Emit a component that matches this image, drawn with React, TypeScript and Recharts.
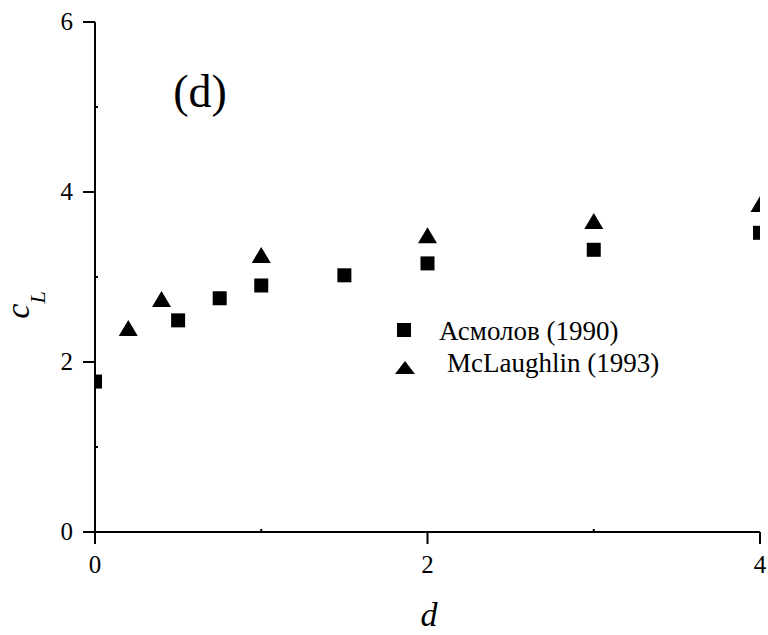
import { ScatterChart, Scatter, XAxis, YAxis, Legend } from "recharts";

const FONT = "'Liberation Serif', 'DejaVu Serif', 'Times New Roman', serif";

// Asmolov (1990) – squares
const asmolovD = [0, 0.5, 0.75, 1, 1.5, 2, 3, 4];
const asmolovCL = [1.77, 2.49, 2.75, 2.9, 3.02, 3.16, 3.32, 3.52];

// McLaughlin (1993) – triangles
const mclaughlinD = [0.2, 0.4, 1, 2, 3, 4];
const mclaughlinCL = [2.4, 2.74, 3.26, 3.49, 3.66, 3.86];

const xTicks = [0, 1, 2, 3, 4];
const yTicks = [0, 1, 2, 3, 4, 5, 6];
const seriesNames = ["Асмолов (1990)", "McLaughlin (1993)"];

const asmolovData = asmolovD.map((x, i) => ({ x, y: asmolovCL[i] }));
const mclaughlinData = mclaughlinD.map((x, i) => ({ x, y: mclaughlinCL[i] }));

const TICK_SIZE = 12;
const Y_TICK_MARGIN = 10;
const X_TICK_MARGIN = 4;

function SquareDot(props: any) {
  const { cx, cy } = props;
  return <rect x={cx - 7} y={cy - 7} width={14} height={14} fill="#000" />;
}

function TriangleDot(props: any) {
  const { cx, cy } = props;
  const pts = `${cx},${cy - 8} ${cx - 9.5},${cy + 8} ${cx + 9.5},${cy + 8}`;
  return <polygon points={pts} fill="#000" />;
}

function YTick(props: any) {
  const { x, y, payload } = props;
  const axisX = x + TICK_SIZE + Y_TICK_MARGIN;
  const v = payload.value;
  // odd values are minor ticks: short stub pointing inwards
  if (v % 2 !== 0) {
    return <line x1={axisX} x2={axisX + 3} y1={y} y2={y} stroke="#000" strokeWidth={2} />;
  }
  return (
    <g>
      <line x1={axisX - TICK_SIZE} x2={axisX} y1={y} y2={y} stroke="#000" strokeWidth={2} />
      <text x={x} y={y + 8} textAnchor="end" style={{ fontFamily: FONT }} fontSize={25} fill="#000">
        {v}
      </text>
    </g>
  );
}

function XTick(props: any) {
  const { x, y, payload } = props;
  const axisY = y - TICK_SIZE - X_TICK_MARGIN;
  const v = payload.value;
  if (v % 2 !== 0) {
    return <line x1={x} x2={x} y1={axisY} y2={axisY - 3} stroke="#000" strokeWidth={2} />;
  }
  return (
    <g>
      <line x1={x} x2={x} y1={axisY} y2={axisY + TICK_SIZE} stroke="#000" strokeWidth={2} />
      <text x={x} y={y + 25} textAnchor="middle" style={{ fontFamily: FONT }} fontSize={25} fill="#000">
        {v}
      </text>
    </g>
  );
}

function renderLegend() {
  return (
    <div style={{ position: "relative", width: 320, height: 64, fontFamily: FONT, fontSize: 27, color: "#000" }}>
      <svg width={14} height={14} style={{ position: "absolute", left: 5, top: 8 }}>
        <rect x={0} y={0} width={14} height={14} fill="#000" />
      </svg>
      <span style={{ position: "absolute", left: 47, top: 0, lineHeight: "32px", whiteSpace: "nowrap" }}>
        {seriesNames[0]}
      </span>
      <svg width={20} height={13} style={{ position: "absolute", left: 3, top: 46 }}>
        <polygon points="10,0 0,13 20,13" fill="#000" />
      </svg>
      <span style={{ position: "absolute", left: 55, top: 32, lineHeight: "32px", whiteSpace: "nowrap" }}>
        {seriesNames[1]}
      </span>
    </div>
  );
}

export default function App() {
  return (
    <div style={{ position: "absolute", left: 0, top: 0, width: 768, height: 635, background: "#fff" }}>
      <ScatterChart width={768} height={635} margin={{ top: 22, right: 8, left: 0, bottom: 0 }}>
        <XAxis
          type="number"
          dataKey="x"
          domain={[0, 4]}
          ticks={xTicks}
          allowDataOverflow
          height={103}
          tickSize={TICK_SIZE}
          tickMargin={X_TICK_MARGIN}
          tickLine={false}
          tick={XTick}
          axisLine={{ stroke: "#000", strokeWidth: 2 }}
          label={{
            content: () => (
              <text x={429} y={626} textAnchor="middle" style={{ fontFamily: FONT, fontStyle: "italic" }} fontSize={34} fill="#000">
                d
              </text>
            ),
          }}
        />
        <YAxis
          type="number"
          dataKey="y"
          domain={[0, 6]}
          ticks={yTicks}
          width={95}
          tickSize={TICK_SIZE}
          tickMargin={Y_TICK_MARGIN}
          tickLine={false}
          tick={YTick}
          axisLine={{ stroke: "#000", strokeWidth: 2 }}
          label={{
            content: () => (
              <text
                x={29}
                y={305}
                transform="rotate(-90, 29, 305)"
                textAnchor="middle"
                style={{ fontFamily: FONT, fontStyle: "italic" }}
                fill="#000"
              >
                <tspan fontSize={34}>c</tspan>
                <tspan fontSize={22} dy={16}>L</tspan>
              </text>
            ),
          }}
        />
        <Legend
          layout="vertical"
          align="center"
          verticalAlign="middle"
          content={renderLegend}
          wrapperStyle={{ left: 392, top: 315, width: 320, height: 64 }}
        />
        <Scatter
          name={seriesNames[0]}
          data={asmolovData}
          fill="#000"
          shape={SquareDot}
          legendType="square"
          isAnimationActive={false}
        />
        <Scatter
          name={seriesNames[1]}
          data={mclaughlinData}
          fill="#000"
          shape={TriangleDot}
          legendType="triangle"
          isAnimationActive={false}
        />
        <text x={200} y={107} textAnchor="middle" style={{ fontFamily: FONT }} fontSize={46} fill="#000">
          (d)
        </text>
      </ScatterChart>
    </div>
  );
}
